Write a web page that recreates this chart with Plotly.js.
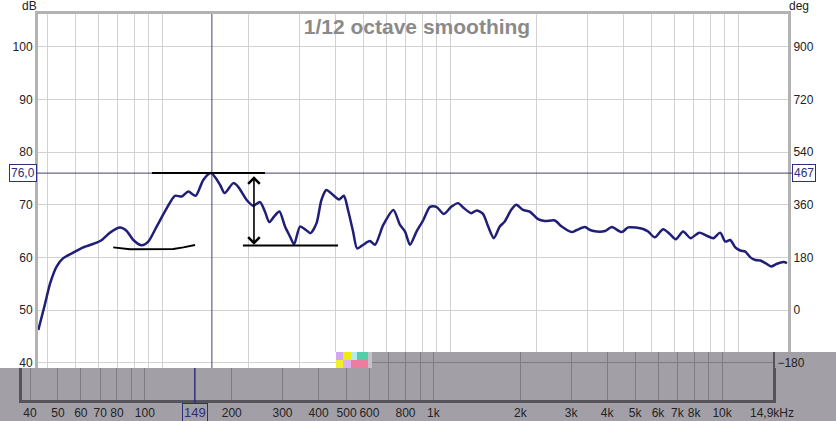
<!DOCTYPE html>
<html><head><meta charset="utf-8">
<script src="https://cdn.plot.ly/plotly-3.0.1.min.js"></script>
<style>html,body{margin:0;padding:0;background:#fff;overflow:hidden}#chart{width:836px;height:421px}</style>
</head><body><div id="chart"></div>
<script>
// ---- data (frequency response, 1/12 octave smoothing) ----
const freqHz = [37.2,39.3,40.9,43.1,45.4,49.2,53.3,59.3,61.8,66,71.5,75.4,79.5,85,89.6,95.8,103.8,110.9,117,123.4,130.9,139.1,148,159,165,176.8,183.9,196.8,207.6,219,227.7,235.7,244.9,255.7,267.4,278.3,287.5,301.5,316,327.9,344,357.7,372,398,412,428,442.5,460.8,476,499.7,527,549,587,636,670,698,726,765,808,852,897,952,1010,1067,1109,1185,1237,1302,1357,1420,1489,1549,1634,1700,1793,1892,2022,2134,2313,2443,2646,2755,2944,3065,3233,3455,3642,3950,4159,4685,4875,5142,5495,5795,6080,6447,6843,7335,7790,8217,8676,9034,9400,9785,10190,10600,11040,11490,11960,12460,13040,13660,14410,14800];
const splDb = [46.2,51.3,55.1,58.3,59.85,60.9,61.9,62.8,63.3,64.7,65.65,65.0,63.3,62.3,63.0,65.85,69.3,71.7,71.55,72.5,71.7,74.7,76.0,73.8,72.2,74.1,73.4,70.9,69.8,70.5,68.7,66.7,67.75,68.7,65.85,63.95,62.5,65.85,65.2,64.6,66.5,70.9,72.8,71.55,71.0,71.7,69.0,64.9,61.7,62.4,63.1,62.4,66.2,69.0,66.2,64.9,62.4,64.9,67.1,69.6,69.6,68.25,69.6,70.3,69.5,68.4,68.9,68.25,65.85,63.65,65.85,66.8,69.1,70.0,69.0,68.7,67.25,66.9,67.0,65.85,64.8,65.2,65.75,65.2,64.9,65.0,65.75,64.8,65.7,65.4,64.9,63.8,65.35,64.45,63.45,64.9,63.65,64.7,64.1,63.65,64.7,63.0,63.3,61.9,61.3,61.1,60.0,59.5,59.4,58.9,58.25,58.8,59.1,58.9];

const cursorFreq = 149;
const cursorDb = 76.0;
const cursorLabelDb = '76,0';
const cursorLabelDeg = '467';
const cursorLabelFreq = '149';

const dbTicks = [50,60,70,80,90,100];
const dbTickBand = [40];
const degTicks = [0,180,360,540,720,900];
const degTickBand = [-180];
const gridFreqs = [40,50,60,70,80,90,100,200,300,400,500,600,700,800,900,1000,2000,3000,4000,5000,6000,7000,8000,9000,10000];
const stripTickVals = [40,50,60,70,80,90,100,200,300,400,500,600,700,800,900,1000,2000,3000,4000,5000,6000,7000,8000,9000,10000,14900];
const stripTickText = ['40','50','60','70','80','','100','200','300','400','500','600','','800','','1k','2k','3k','4k','5k','6k','7k','8k','','10k','14,9kHz'];

// hand-drawn marks on the screenshot (freq, dB)
const markTopLine = {f:[92.3,227.7], db:76.0};
const markLowRight = {f:[191,408.6], db:62.25};
const markLowLeft = {f:[67.7,77.4,109.5,118.6,130.2], db:[61.9,61.55,61.6,61.9,62.35]};
const markArrow = {f:208.6, db:[62.4,75.7]};

// ---- geometry helpers (pixels -> layout fractions / axis ranges) ----
const W=836, H=421;
const fx = px => px/W;
const fy = py => (H-py)/H;
const mainLog = px => 2 + (px-162)/288;              // 100 Hz at 162 px
const stripLog = px => Math.log10(40) + (px-30)/288.6; // shifted lower strip
const dbAt = py => 100 - (py-46.7)/5.267;
const degOf = db => (db-50)*18;

const FONT = 'Liberation Sans, Arial, sans-serif';
const lightGrid = '#d2d2d2';
const frame = '#b3b3b3';
const stripGray = '#a2a0a6';
const darkGrid = '#7e7c84';
const darkLine = '#55545a';
const navy = '#2e2e80';
const cursorCol = '#44446f';

const traces = [
  {x:freqHz, y:splDb, xaxis:'x', yaxis:'y', type:'scatter', mode:'lines',
   line:{color:'#1f1f78', width:2.5, shape:'spline', smoothing:0.7}, hoverinfo:'skip'},
  {x:[], y:[], xaxis:'x', yaxis:'y2', type:'scatter'},
  {x:[], y:[], xaxis:'x2', yaxis:'y3', type:'scatter'},
  {x:[], y:[], xaxis:'x3', yaxis:'y4', type:'scatter'},
  {x:[], y:[], xaxis:'x4', yaxis:'y5', type:'scatter'}
];

const tf = {family:FONT, size:12, color:'#222'};

const layout = {
  width:W, height:H, margin:{l:0,r:0,t:0,b:0},
  paper_bgcolor:'#fff', plot_bgcolor:'rgba(0,0,0,0)',
  showlegend:false, font:{family:FONT, size:12, color:'#222'},
  title:{text:'1/12 octave smoothing', x:fx(417), xref:'container', y:fy(27), yref:'container',
         xanchor:'center', yanchor:'middle',
         font:{family:FONT, size:21, color:'#8a8a8a', weight:'bold'}},
  // main plot
  xaxis:{type:'log', domain:[fx(38),fx(788)], range:[mainLog(38),mainLog(788)], anchor:'y', side:'top',
         tickvals:gridFreqs, showticklabels:false, ticks:'', showgrid:true, gridcolor:lightGrid, gridwidth:1,
         showline:true, linecolor:frame, linewidth:3, zeroline:false, fixedrange:true},
  yaxis:{domain:[fy(352),fy(14)], range:[dbAt(352),dbAt(14)], anchor:'x', side:'left',
         tickvals:dbTicks, ticks:'', tickfont:tf, showgrid:true, gridcolor:lightGrid,
         showline:true, linecolor:frame, linewidth:3, zeroline:false, fixedrange:true},
  yaxis2:{overlaying:'y', anchor:'x', side:'right', range:[degOf(dbAt(352)),degOf(dbAt(14))],
          tickvals:degTicks, ticks:'', tickfont:tf, showgrid:false,
          showline:true, linecolor:frame, linewidth:3, zeroline:false, fixedrange:true},
  // white band below the main plot (left part)
  xaxis4:{type:'log', domain:[fx(38),fx(336)], range:[mainLog(38),mainLog(336)], anchor:'y5',
          tickvals:gridFreqs, showticklabels:false, ticks:'', showgrid:true, gridcolor:lightGrid,
          showline:false, zeroline:false, fixedrange:true},
  yaxis5:{domain:[fy(368),fy(352)], range:[dbAt(368),dbAt(352)], anchor:'x4', side:'left',
          tickvals:dbTickBand, ticks:'', tickfont:tf, showgrid:true, gridcolor:lightGrid,
          showline:true, linecolor:frame, linewidth:3, zeroline:false, fixedrange:true},
  // gray band (right part) of the shifted lower strip
  xaxis3:{type:'log', domain:[fx(336),fx(773)], range:[stripLog(336),stripLog(773)], anchor:'y4',
          tickvals:gridFreqs, showticklabels:false, ticks:'', showgrid:true, gridcolor:darkGrid,
          showline:false, zeroline:false, fixedrange:true},
  yaxis4:{domain:[fy(368),fy(352)], range:[degOf(dbAt(368)),degOf(dbAt(352))], anchor:'x3', side:'right',
          tickvals:degTickBand, ticks:'', tickfont:tf, showgrid:true, gridcolor:darkGrid,
          showline:true, linecolor:darkLine, linewidth:2, zeroline:false, fixedrange:true},
  // lower gray strip with frequency labels
  xaxis2:{type:'log', domain:[fx(22),fx(773)], range:[stripLog(22),stripLog(773)], anchor:'y3', side:'bottom',
          tickvals:stripTickVals, ticktext:stripTickText, ticks:'', tickfont:tf, showgrid:true, gridcolor:darkGrid,
          showline:true, linecolor:darkLine, linewidth:3, zeroline:false, fixedrange:true},
  yaxis3:{domain:[fy(400),fy(368)], range:[0,1], anchor:'x2', showticklabels:false, ticks:'', showgrid:false,
          showline:true, mirror:true, linecolor:darkLine, linewidth:3, zeroline:false, fixedrange:true},
  shapes:[
    {type:'rect', xref:'paper', yref:'paper', x0:0, x1:1, y0:0, y1:fy(368), fillcolor:stripGray, line:{width:0}, layer:'below'},
    {type:'rect', xref:'paper', yref:'paper', x0:fx(336), x1:1, y0:fy(368), y1:fy(352), fillcolor:stripGray, line:{width:0}, layer:'below'},
    // screenshot glitch pixels
    {type:'rect', xref:'paper', yref:'paper', x0:fx(336), x1:fx(343), y0:fy(360), y1:fy(352), fillcolor:'#d2a6f2', line:{width:0}},
    {type:'rect', xref:'paper', yref:'paper', x0:fx(343), x1:fx(351), y0:fy(360), y1:fy(352), fillcolor:'#ecec10', line:{width:0}},
    {type:'rect', xref:'paper', yref:'paper', x0:fx(351), x1:fx(357), y0:fy(360), y1:fy(352), fillcolor:'#b0ecf2', line:{width:0}},
    {type:'rect', xref:'paper', yref:'paper', x0:fx(357), x1:fx(368), y0:fy(360), y1:fy(352), fillcolor:'#52cfa6', line:{width:0}},
    {type:'rect', xref:'paper', yref:'paper', x0:fx(336), x1:fx(343), y0:fy(368), y1:fy(360), fillcolor:'#f0f028', line:{width:0}},
    {type:'rect', xref:'paper', yref:'paper', x0:fx(343), x1:fx(351), y0:fy(368), y1:fy(360), fillcolor:'#dab2f2', line:{width:0}},
    {type:'rect', xref:'paper', yref:'paper', x0:fx(351), x1:fx(368), y0:fy(368), y1:fy(360), fillcolor:'#ee7c9e', line:{width:0}},
    {type:'rect', xref:'paper', yref:'paper', x0:fx(368), x1:fx(372), y0:fy(368), y1:fy(352), fillcolor:'#c4c2c8', line:{width:0}},
    // cursor
    {type:'line', xref:'x', yref:'paper', x0:cursorFreq, x1:cursorFreq, y0:fy(368), y1:fy(14), line:{color:cursorCol, width:1}},
    {type:'line', xref:'paper', yref:'y', x0:fx(37), x1:fx(792), y0:cursorDb, y1:cursorDb, line:{color:cursorCol, width:1}},
    {type:'line', xref:'x2', yref:'paper', x0:cursorFreq, x1:cursorFreq, y0:fy(405), y1:fy(368), line:{color:navy, width:1.5}},
    // hand-drawn marks
    {type:'line', xref:'x', yref:'y', x0:markTopLine.f[0], x1:markTopLine.f[1], y0:markTopLine.db, y1:markTopLine.db, line:{color:'#000', width:2}},
    {type:'line', xref:'x', yref:'y', x0:markLowRight.f[0], x1:markLowRight.f[1], y0:markLowRight.db, y1:markLowRight.db, line:{color:'#000', width:2}},
    {type:'path', xref:'x', yref:'y', line:{color:'#000', width:2},
     path: markLowLeft.f.map((f,i)=>(i?'L':'M')+f+','+markLowLeft.db[i]).join(' ')}
  ],
  annotations:[
    {xref:'paper', yref:'paper', x:fx(29), y:fy(6), text:'dB', showarrow:false, font:tf, xanchor:'center', yanchor:'middle'},
    {xref:'paper', yref:'paper', x:fx(799), y:fy(6), text:'deg', showarrow:false, font:tf, xanchor:'center', yanchor:'middle'},
    {xref:'paper', yref:'y', x:fx(37), y:cursorDb, text:cursorLabelDb, showarrow:false, xanchor:'right', yanchor:'middle',
     font:{family:FONT, size:12, color:navy}, bgcolor:'#fff', bordercolor:navy, borderwidth:1, borderpad:1},
    {xref:'paper', yref:'y', x:fx(792), y:cursorDb, text:cursorLabelDeg, showarrow:false, xanchor:'left', yanchor:'middle',
     font:{family:FONT, size:12, color:navy}, bgcolor:'#fff', bordercolor:navy, borderwidth:1, borderpad:1},
    {xref:'x2', yref:'paper', x:Math.log10(cursorFreq), y:fy(412), text:cursorLabelFreq, showarrow:false, xanchor:'center', yanchor:'middle',
     font:{family:FONT, size:13, color:navy}, bgcolor:stripGray, bordercolor:navy, borderwidth:1, borderpad:1},
    {xref:'x', yref:'y', axref:'x', ayref:'y', x:Math.log10(markArrow.f), y:markArrow.db[0],
     ax:Math.log10(markArrow.f), ay:markArrow.db[1], text:'', showarrow:true, arrowside:'end+start',
     arrowhead:4, startarrowhead:4, arrowsize:1.4, startarrowsize:1.4, arrowwidth:1.6, arrowcolor:'#000'}
  ]
};

Plotly.newPlot('chart', traces, layout, {staticPlot:true, displayModeBar:false});
</script></body></html>
